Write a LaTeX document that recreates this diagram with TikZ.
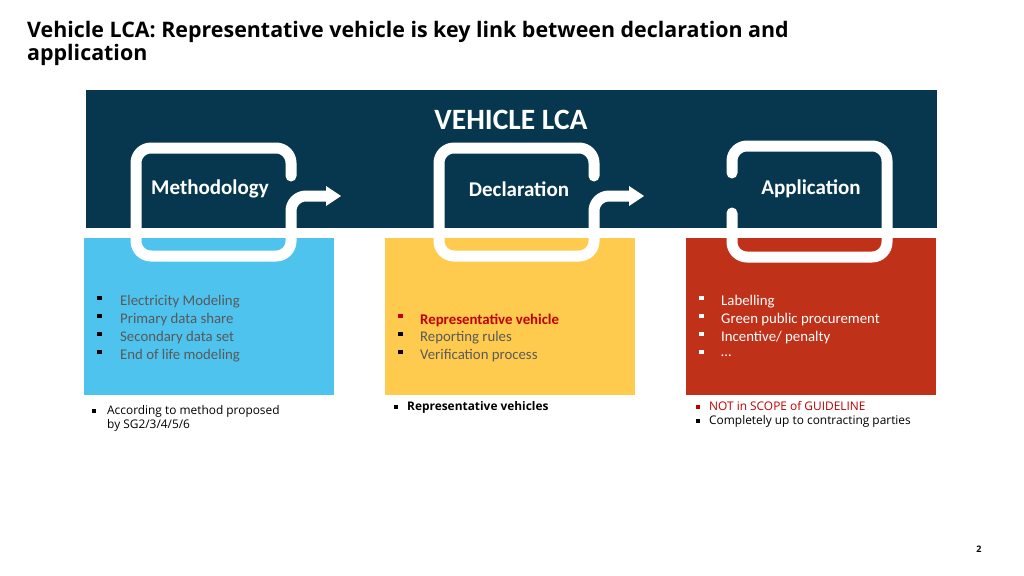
\documentclass[tikz,border=0pt]{standalone}
\usepackage{fontspec}
\setmainfont{Carlito}
\newfontfamily\notefont{Open Sans}
\newcommand\bsqa{\rule{4.5pt}{4.5pt}}
\newcommand\bsqb{\rule{3.5pt}{3.5pt}}
\definecolor{dark}{HTML}{07374F}
\definecolor{cblue}{HTML}{4DC3EE}
\definecolor{cyel}{HTML}{FFCB4E}
\definecolor{cred}{HTML}{C0311A}
\definecolor{tgray}{HTML}{595959}
\definecolor{nred}{HTML}{C00000}
\begin{document}
\begin{tikzpicture}[x=1pt,y=-1pt,
  loop/.style={white,line width=11pt,rounded corners=15pt,line cap=round},
  lab/.style={white,font=\fontsize{21}{24}\selectfont\bfseries},
  item/.style={anchor=west,inner sep=0,text=tgray,font=\fontsize{14.8}{16}\selectfont},
  bul/.style={anchor=west,inner sep=0},
  note/.style={anchor=north west,inner sep=0,align=left,font=\notefont\fontsize{11.9}{14}\selectfont}]
\useasboundingbox (0,0) rectangle (1024,575);
\fill[white] (0,0) rectangle (1024,575);
\node[anchor=west,inner sep=0,align=left,font=\notefont\bfseries\fontsize{21.4}{23}\selectfont] (title) at (27,43) {Vehicle LCA: Representative vehicle is key link between declaration and\\application};
\fill[dark] (86,90) rectangle (937,228);
\fill[cblue] (84,238) rectangle (334,395);
\fill[cyel] (385,238) rectangle (635,395);
\fill[cred] (686,238) rectangle (936,395);
\node[white,font=\fontsize{29.5}{32}\selectfont\bfseries] (vlca) at (511,120) {VEHICLE LCA};
% loops
\draw[loop] (291,176) -- (291,148) -- (136,148) -- (136,256) -- (291,256) -- (291,196) -- (327,196);
\fill[white] (326,186) -- (341,196) -- (326,206) -- cycle;
\draw[loop] (594,176) -- (594,148) -- (439,148) -- (439,256) -- (594,256) -- (594,196) -- (630,196);
\fill[white] (629,186) -- (644,196) -- (629,206) -- cycle;
\draw[loop] (732,173) -- (732,146) -- (887,146) -- (887,257) -- (732,257) -- (732,213);
\node[lab] (meth) at (210,189) {Methodology};
\node[lab] (decl) at (519,189) {Declaration};
\node[lab] (appl) at (811,189) {Application};
% lists
\foreach \y/\t [count=\i] in {302/Electricity Modeling,320/Primary data share,338/Secondary data set,356/End of life modeling}{
  \node[bul] (lb\i) at (97,\y-4) {\bsqa};
  \node[item] (l\i) at (120,\y) {\t};}
\node[bul,text=nred] (mb1) at (398,316) {\bsqa};
\node[item,text=nred,font=\fontsize{14.8}{16}\selectfont\bfseries] (m1) at (420,320) {Representative vehicle};
\node[bul] (mb2) at (398,334) {\bsqa};
\node[item] (m2) at (420,338) {Reporting rules};
\node[bul] (mb3) at (398,352) {\bsqa};
\node[item] (m3) at (420,356) {Verification process};
\foreach \y/\t [count=\i] in {302/Labelling,320/Green public procurement,338/{Incentive/ penalty},356/\dots}{
  \node[bul,white] (rb\i) at (699,\y-4) {\bsqa};
  \node[item,white] (r\i) at (721,\y) {\t};}
% notes
\node[bul] (nb1) at (92,411) {\bsqb};
\node[note] (n1) at (107,405) {According to method proposed\\by SG2/3/4/5/6};
\node[bul] (nb2) at (394,407) {\bsqb};
\node[note,font=\notefont\bfseries\fontsize{11.9}{14}\selectfont] (n2) at (407,401) {Representative vehicles};
\node[bul,text=nred] (nb3) at (696,407) {\bsqb};
\node[note,text=nred] (n3) at (709,401) {NOT in SCOPE of GUIDELINE};
\node[bul] (nb4) at (696,421) {\bsqb};
\node[note] (n4) at (709,415) {Completely up to contracting parties};
\node[font=\notefont\bfseries\fontsize{9}{10}\selectfont] (pg) at (979,549) {2};
\end{tikzpicture}
\end{document}
